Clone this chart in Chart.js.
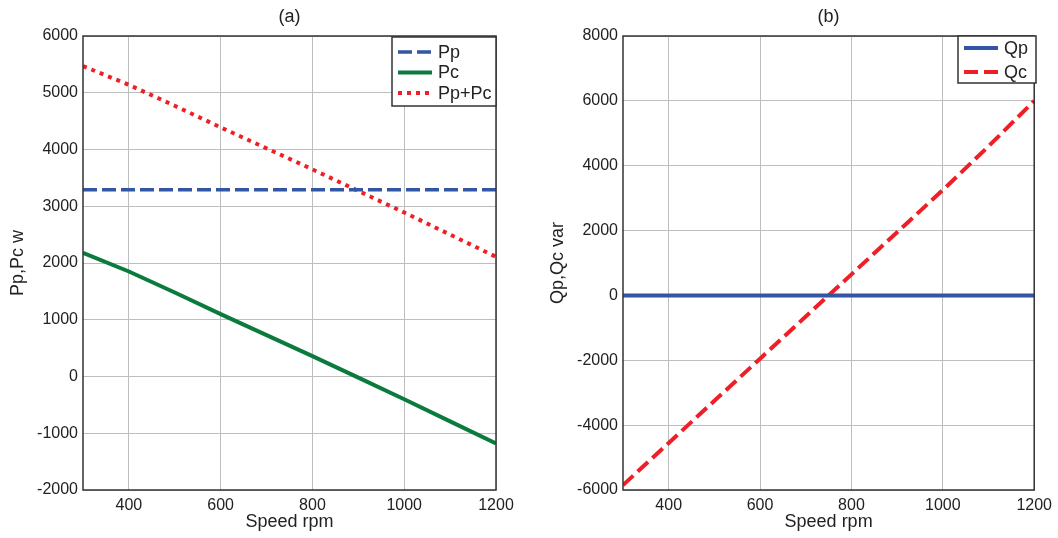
<!DOCTYPE html>
<html>
<head>
<meta charset="utf-8">
<script src="https://cdn.jsdelivr.net/npm/chart.js@4"></script>
<style>
	html, body { margin: 0; padding: 0; background: #fff; }
	#wrap { position: relative; width: 1058px; height: 538px; }
	.box { position: absolute; top: 0; height: 538px; }
</style>
</head>
<body>
<div id="wrap">
	<div class="box" style="left:0;width:530px"><canvas id="chartA"></canvas></div>
	<div class="box" style="left:540px;width:518px"><canvas id="chartB"></canvas></div>
</div>
<script>
(function () {

	'use strict';

	// speed values (rpm)
	var speed = [300, 400, 500, 600, 700, 800, 900, 1000, 1100, 1200];

	// (a) active power, w
	var pp   = [3290, 3290, 3290, 3290, 3290, 3290, 3290, 3290, 3290, 3290];
	var pc   = [2180, 1850, 1480, 1100, 730, 360, -20, -400, -790, -1180];
	var ppPc = [5470, 5140, 4770, 4390, 4020, 3650, 3270, 2890, 2500, 2110];

	// (b) reactive power, var
	var qp = [0, 0, 0, 0, 0, 0, 0, 0, 0, 0];
	var qc = [-5850, -4550, -3250, -1950, -650, 650, 1950, 3250, 4600, 6000];

	var xTicks  = [400, 600, 800, 1000, 1200];
	var yTicksA = [-2000, -1000, 0, 1000, 2000, 3000, 4000, 5000, 6000];
	var yTicksB = [-6000, -4000, -2000, 0, 2000, 4000, 6000, 8000];

	var BLUE  = '#3255a4';
	var GREEN = '#0b7b3d';
	var RED   = '#ee1f26';
	var FONT  = '"Liberation Sans", Arial, sans-serif';

	function pts(ys) {
		return speed.map(function (s, i) { return { x: s, y: ys[i] }; });
	}

	function plain(v) { return String(v); }

	// frame, panel caption and inset legend
	var frame = {
		id: 'frame',
		afterDraw: function (chart, args, opts) {
			var ctx = chart.ctx;
			var a = chart.chartArea;
			ctx.save();
			ctx.strokeStyle = '#333';
			ctx.lineWidth = 1.5;
			ctx.strokeRect(a.left, a.top, a.right - a.left, a.bottom - a.top);

			ctx.fillStyle = '#222';
			ctx.font = '18px ' + FONT;
			ctx.textAlign = 'center';
			ctx.textBaseline = 'middle';
			ctx.fillText(opts.caption, (a.left + a.right) / 2, 17);

			var lg = opts.legend;
			ctx.fillStyle = '#fff';
			ctx.fillRect(lg.x, lg.y, lg.w, lg.h);
			ctx.strokeStyle = '#333';
			ctx.lineWidth = 1.5;
			ctx.strokeRect(lg.x, lg.y, lg.w, lg.h);
			chart.data.datasets.forEach(function (ds, i) {
				var y = lg.y + lg.first + i * lg.step;
				ctx.beginPath();
				ctx.setLineDash(ds.borderDash || []);
				ctx.strokeStyle = ds.borderColor;
				ctx.lineWidth = ds.borderWidth;
				ctx.moveTo(lg.x + 6, y);
				ctx.lineTo(lg.x + 40, y);
				ctx.stroke();
				ctx.setLineDash([]);
				ctx.fillStyle = '#222';
				ctx.font = '18px ' + FONT;
				ctx.textAlign = 'left';
				ctx.fillText(ds.label, lg.x + 46, y + 1);
			});
			ctx.restore();
		}
	};

	function makeChart(el, datasets, yMin, yMax, yTicks, yTitle, caption, legend, rightPad) {
		return new Chart(el, {
			type: 'line',
			data: { datasets: datasets },
			plugins: [frame],
			options: {
				responsive: true,
				maintainAspectRatio: false,
				animation: false,
				layout: { padding: { top: 36, right: rightPad, bottom: 0, left: 0 } },
				elements: { point: { radius: 0 }, line: { tension: 0 } },
				plugins: {
					legend: { display: false },
					tooltip: { enabled: false },
					frame: { caption: caption, legend: legend }
				},
				scales: {
					x: {
						type: 'linear',
						min: 300,
						max: 1200,
						afterBuildTicks: function (scale) {
							scale.ticks = xTicks.map(function (v) { return { value: v }; });
						},
						afterFit: function (scale) { scale.height = 48; },
						grid: { color: '#bdbdbd', drawTicks: false },
						border: { display: false },
						ticks: { padding: 6, color: '#222', callback: plain, font: { family: FONT, size: 16 } },
						title: { display: true, text: 'Speed rpm', color: '#222', padding: 5,
							font: { family: FONT, size: 18 } }
					},
					y: {
						type: 'linear',
						min: yMin,
						max: yMax,
						afterBuildTicks: function (scale) {
							scale.ticks = yTicks.map(function (v) { return { value: v }; });
						},
						afterFit: function (scale) { scale.width = 83; },
						grid: { color: '#bdbdbd', drawTicks: false },
						border: { display: false },
						ticks: { padding: 5, color: '#222', callback: plain, font: { family: FONT, size: 16 } },
						title: { display: true, text: yTitle, color: '#222', padding: 7,
							font: { family: FONT, size: 18 } }
					}
				}
			}
		});
	}

	makeChart(document.getElementById('chartA'), [
		{ label: 'Pp', data: pts(pp), borderColor: BLUE, borderWidth: 3.5, borderDash: [14, 5] },
		{ label: 'Pc', data: pts(pc), borderColor: GREEN, borderWidth: 4 },
		{ label: 'Pp+Pc', data: pts(ppPc), borderColor: RED, borderWidth: 4, borderDash: [4, 5] }
	], -2000, 6000, yTicksA, 'Pp,Pc w', '(a)',
		{ x: 392, y: 37, w: 104, h: 69, first: 15, step: 20.5 }, 34);

	makeChart(document.getElementById('chartB'), [
		{ label: 'Qp', data: pts(qp), borderColor: BLUE, borderWidth: 4 },
		{ label: 'Qc', data: pts(qc), borderColor: RED, borderWidth: 4, borderDash: [14, 6] }
	], -6000, 8000, yTicksB, 'Qp,Qc var', '(b)',
		{ x: 418, y: 36, w: 78, h: 47, first: 12, step: 24 }, 20);

})();
</script>
</body>
</html>
